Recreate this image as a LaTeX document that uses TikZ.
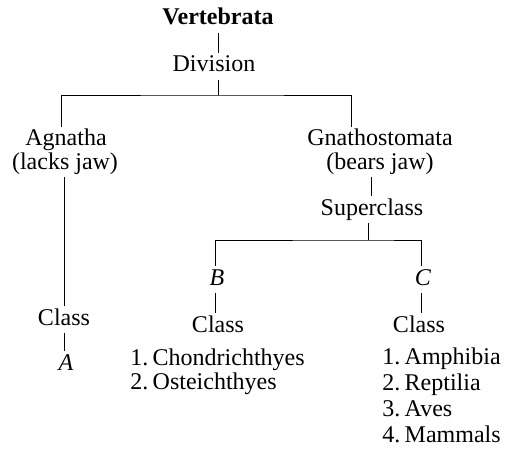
\documentclass[tikz,border=0pt]{standalone}
\usepackage{fontspec}
\setmainfont{Liberation Serif}
\usetikzlibrary{positioning}

\begin{document}
\begin{tikzpicture}[x=1pt,y=-1pt,
  every node/.style={font=\fontsize{24}{24}\selectfont,inner sep=3pt,text height=16pt,text depth=5pt,anchor=base},
  item/.style={anchor=base west},
  every path/.style={line width=0.8pt}]
\useasboundingbox (0,0) rectangle (512,452);
%
\node (vert) at (218,25) {\textbf{Vertebrata}};
\node (div) at (214,72) {Division};
\node (agn) at (66,146) {Agnatha};
\node (agnj) at (65,169) {(lacks jaw)};
\node (gna) at (380,146) {Gnathostomata};
\node (gnaj) at (380,169) {(bears jaw)};
\node (sup) at (372,215) {Superclass};
\node (B) at (217,285) {\textit{B}};
\node (C) at (423,285) {\textit{C}};
%
\node (clA) at (64,325) {Class};
\node (A) at (66,370) {\textit{A}};
\node (clB) at (218,332) {Class};
\node (clC) at (419,332) {Class};
\node[item] (b1) at (127,365) {1.\hspace{0.18em}Chondrichthyes};
\node[item] (b2) at (127,389) {2.\hspace{0.18em}Osteichthyes};
\node[item] (c1) at (379,364) {1.\hspace{0.18em}Amphibia};
\node[item] (c2) at (379,390) {2.\hspace{0.18em}Reptilia};
\node[item] (c3) at (379,416) {3.\hspace{0.18em}Aves};
\node[item] (c4) at (379,442) {4.\hspace{0.18em}Mammals};
%
\coordinate (j1) at (218,95);
\coordinate (j2) at (368,240);
%
\draw (vert.south) -- (vert.south |- div.north);
\draw (div.south -| j1) -- (j1);
\draw ([xshift=-5pt]agn.north) |- (j1) -| ([xshift=-29pt]gna.north);
\draw ([xshift=-1pt]agnj.south) -- ([xshift=-1pt]agnj.south |- clA.north);
\draw (clA.south) -- (clA.south |- A.north);
%
\draw ([xshift=-9pt]gnaj.south) -- ([xshift=-9pt]gnaj.south |- sup.north);
\draw (sup.south -| j2) -- (j2);
\draw ([xshift=-2pt]B.north) |- (j2) -| ([xshift=-2pt]C.north);
\draw ([xshift=-2pt]B.south) -- ([xshift=-2pt]B.south |- clB.north);
\draw ([xshift=-2pt]C.south) -- ([xshift=-2pt]C.south |- clC.north);
\end{tikzpicture}
\end{document}
